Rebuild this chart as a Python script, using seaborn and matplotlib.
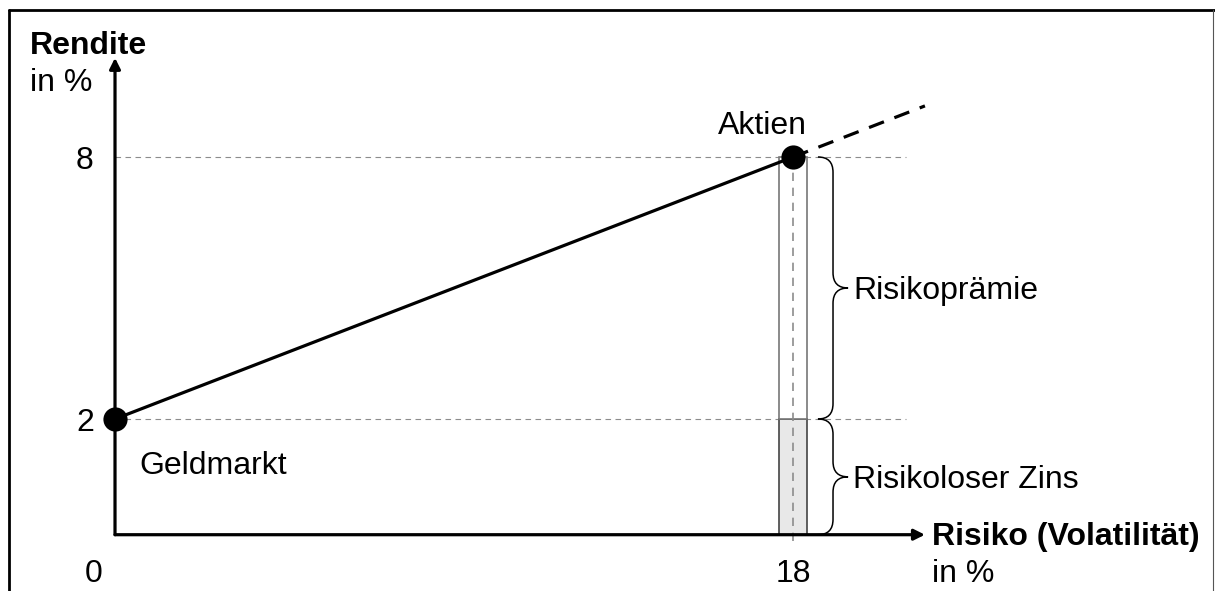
import matplotlib
matplotlib.use("Agg")
import matplotlib.pyplot as plt
from matplotlib.path import Path
from matplotlib.patches import PathPatch
from matplotlib.lines import Line2D
import seaborn as sns
import pandas as pd

# Data
risk = [0, 18]              # Risiko (Volatilität) in %
ret = [2, 8]                # Rendite in %
point_names = ["Geldmarkt", "Aktien"]
ext_end = (21.5, 9.17)      # end of the dashed extension
y_ticks = [2, 8]
x_ticks = [0, 18]
base = -0.65                # where the drawn x axis sits
x_arrow_end = 21.5
y_arrow_end = 10.27
bar_width = 0.75

sns.set_theme(style="white")
plt.rcParams['font.family'] = ['Liberation Sans', 'DejaVu Sans']
plt.rcParams['text.color'] = 'black'
FS = 23

fig = plt.figure(figsize=(12.15, 5.91), dpi=100)
ax = fig.add_axes([0, 0, 1, 1])
ax.set_xlim(-3.053, 29.2)
ax.set_ylim(-1.939, 11.595)
ax.axis("off")

# frame around the figure
fig.add_artist(Line2D([9 / 1215, 9 / 1215], [-0.1, 1 - 10 / 591], transform=fig.transFigure, color="black", lw=2))
fig.add_artist(Line2D([9 / 1215, 1.1], [1 - 10 / 591, 1 - 10 / 591], transform=fig.transFigure, color="black", lw=2))
fig.add_artist(Line2D([1213 / 1215, 1213 / 1215], [-0.1, 1 - 10 / 591], transform=fig.transFigure, color="#555555", lw=0.8))

# helper lines
for yv in y_ticks:
    ax.plot([0, 21], [yv, yv], color="#8c8c8c", lw=0.8, ls=(0, (5, 4)), zorder=1)
ax.plot([risk[1], risk[1]], [base - 0.15, ret[1]], color="#8c8c8c", lw=1.2, ls=(0, (5, 4)), zorder=4)

# bar: risk-free part and risk premium
ax.bar([risk[1]], [ret[0] - base], bottom=base, width=bar_width, color="#e8e8e8", edgecolor="#444444", lw=1.2, zorder=3)
ax.bar([risk[1]], [ret[1] - ret[0]], bottom=ret[0], width=bar_width, color="white", edgecolor="#777777", lw=1.2, zorder=3)

# axes with arrows
ax.annotate("", xy=(0, y_arrow_end), xytext=(0, base), arrowprops=dict(arrowstyle="-|>", color="black", lw=2.3, mutation_scale=16, shrinkA=0, shrinkB=0), zorder=5)
ax.annotate("", xy=(x_arrow_end, base), xytext=(0, base), arrowprops=dict(arrowstyle="-|>", color="black", lw=2.3, mutation_scale=16, shrinkA=0, shrinkB=0), zorder=5)

# capital market line
df = pd.DataFrame({"risk": risk, "ret": ret, "name": point_names})
sns.lineplot(data=df, x="risk", y="ret", color="black", lw=2.3, ax=ax, zorder=6)
ax.plot([risk[1], ext_end[0]], [ret[1], ext_end[1]], color="black", lw=2.3, ls=(0, (5, 3.5)), zorder=6)
sns.scatterplot(data=df, x="risk", y="ret", color="black", s=260, edgecolor="black", ax=ax, zorder=7, legend=False)
ax.set_xlabel("")
ax.set_ylabel("")


def brace(x0, xtip, ytop, ybot, r=0.35):
    xm = (x0 + xtip) / 2
    ymid = (ytop + ybot) / 2
    verts = [(x0, ytop), (xm, ytop), (xm, ytop - r),
             (xm, ymid + r),
             (xm, ymid), (xtip, ymid),
             (xm, ymid), (xm, ymid - r),
             (xm, ybot + r),
             (xm, ybot), (x0, ybot)]
    codes = [Path.MOVETO, Path.CURVE3, Path.CURVE3,
             Path.LINETO,
             Path.CURVE3, Path.CURVE3,
             Path.CURVE3, Path.CURVE3,
             Path.LINETO,
             Path.CURVE3, Path.CURVE3]
    ax.add_patch(PathPatch(Path(verts, codes), fill=False, color="black", lw=1.1, zorder=5))


brace(18.66, 19.46, ret[1], ret[0])
brace(18.66, 19.46, ret[0], base)

# texts
ax.text(17.18, 8.7, point_names[1], fontsize=FS, ha="center", va="center")
ax.text(0.66, 0.93, point_names[0], fontsize=FS, ha="left", va="center")
ax.text(19.6, 4.94, "Risikoprämie", fontsize=FS, ha="left", va="center")
ax.text(19.58, 0.6, "Risikoloser Zins", fontsize=FS, ha="left", va="center")
ax.text(-2.26, 10.54, "Rendite", fontsize=FS, fontweight="bold", ha="left", va="center")
ax.text(-2.26, 9.69, "in %", fontsize=FS, ha="left", va="center")
ax.text(21.69, base - 0.05, "Risiko (Volatilität)", fontsize=FS, fontweight="bold", ha="left", va="center")
ax.text(21.69, -1.74, "in %", fontsize=FS, ha="left", va="baseline")
for yv in y_ticks:
    ax.text(-0.8, yv - 0.1, str(yv), fontsize=FS, ha="center", va="center")
ax.text(-0.58, -1.74, str(x_ticks[0]), fontsize=FS, ha="center", va="baseline")
ax.text(x_ticks[1], -1.74, str(x_ticks[1]), fontsize=FS, ha="center", va="baseline")

fig.savefig("out.png", dpi=100)
